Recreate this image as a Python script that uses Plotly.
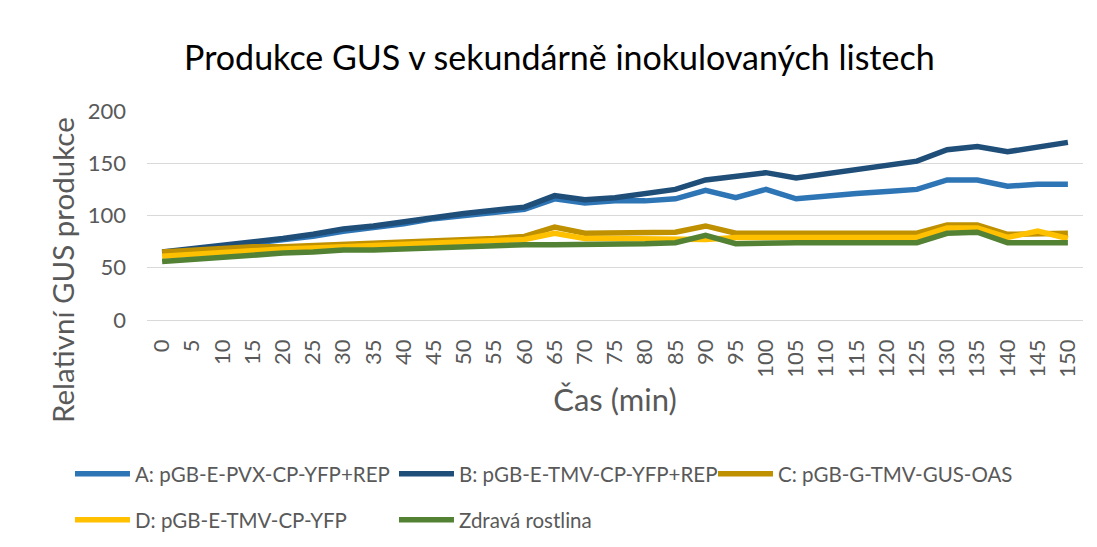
import plotly.graph_objects as go

### Data
cas = list(range(0, 155, 5))

serie_a = [64, 67, 70, 73, 76, 80, 85, 88, 92, 97, 100, 103, 106, 116, 112, 114, 114, 116, 124, 117,
           125, 116, 119, 121, 123, 125, 134, 134, 128, 130, 130]
serie_b = [65, 68, 72, 75, 78, 82, 87, 90, 94, 99, 102, 105, 108, 119, 115, 117, 121, 125, 134, 137,
           141, 136, 140, 144, 147, 152, 163, 166, 161, 165, 170]
serie_c = [65, 67, 68, 70, 70, 71, 72, 74, 75, 76, 77, 78, 80, 89, 83, 83, 83, 84, 90, 83,
           83, 83, 83, 83, 83, 83, 91, 91, 82, 83, 83]
serie_d = [61, 63, 65, 67, 68, 69, 70, 71, 72, 73, 74, 75, 77, 83, 78, 78, 78, 78, 77, 79,
           79, 79, 78, 79, 79, 79, 88, 88, 79, 85, 78]
serie_e = [56, 58, 61, 63, 64, 65, 67, 67, 68, 70, 71, 72, 72, 72, 72, 73, 73, 74, 81, 73,
           74, 74, 74, 74, 74, 74, 83, 84, 74, 74, 74]

nazvy = ['A: pGB-E-PVX-CP-YFP+REP', 'B: pGB-E-TMV-CP-YFP+REP', 'C: pGB-G-TMV-GUS-OAS',
         'D: pGB-E-TMV-CP-YFP', 'Zdravá rostlina']
barvy = ['#2E75B6', '#1F4E79', '#BF9000', '#FFC000', '#548235']
# row 1: A, B (+ C on its own), row 2: D, E
legendy = ['legend', 'legend', 'legend3', 'legend2', 'legend2']

FONT = 'Lato'
GREY = '#595959'

fig = go.Figure()
for y, name, color, lg in zip([serie_a, serie_b, serie_c, serie_d, serie_e], nazvy, barvy, legendy):
    fig.add_trace(
        go.Scatter(
            name=name,
            x=cas,
            y=y,
            mode='lines',
            line=dict(color=color, width=5.5),
            legend=lg
        ))

leg_common = dict(orientation='h', xref='container', yref='container', xanchor='left',
                  yanchor='middle', font=dict(family=FONT, size=20.5, color=GREY),
                  itemwidth=55, entrywidth=254, bgcolor='rgba(0,0,0,0)')

# page body adds an 8px offset, so positions below are shifted by -8px
fig.update_layout(
    width=1097,
    height=547,
    paper_bgcolor='white',
    plot_bgcolor='white',
    font=dict(family=FONT, color=GREY),
    title=dict(text='Produkce GUS v sekundárně inokulovaných listech',
               x=0.5026, xanchor='center', y=0.909, yanchor='middle',
               font=dict(family=FONT, size=34, color='black')),
    margin=dict(l=139, r=22, t=103, b=235),
    showlegend=True,
    legend=dict(x=0.0565, y=0.148, **leg_common),
    legend2=dict(x=0.0565, y=0.064, **leg_common),
    legend3=dict(x=(720 - 8 - 7) / 1097, y=0.148, **leg_common),
    xaxis=dict(
        range=[-2.5, 152.5],
        tickmode='array',
        tickvals=cas,
        ticktext=[str(c) for c in cas],
        tickangle=-90,
        showgrid=False,
        zeroline=False,
        showline=False,
        automargin=False,
        ticklabelstandoff=14,
        tickfont=dict(family=FONT, size=22, color=GREY),
        title=dict(text='Čas (min)', font=dict(family=FONT, size=31, color=GREY), standoff=12)
    ),
    yaxis=dict(
        range=[0, 200],
        dtick=50,
        showgrid=True,
        gridcolor='#D9D9D9',
        gridwidth=1.3,
        zeroline=True,
        zerolinecolor='#D9D9D9',
        zerolinewidth=1.3,
        automargin=False,
        ticklabelstandoff=20,
        tickfont=dict(family=FONT, size=22, color=GREY)
    ),
    # y axis title sits lower than the plot centre in the original, so it is an annotation
    annotations=[dict(
        text='Relativní GUS produkce',
        xref='paper', yref='paper',
        x=(62 - 147) / 936, y=(320 - 270) / 209,
        xanchor='center', yanchor='middle',
        textangle=-90, showarrow=False,
        font=dict(family=FONT, size=29.5, color=GREY)
    )]
)

fig.write_html("out.html")
